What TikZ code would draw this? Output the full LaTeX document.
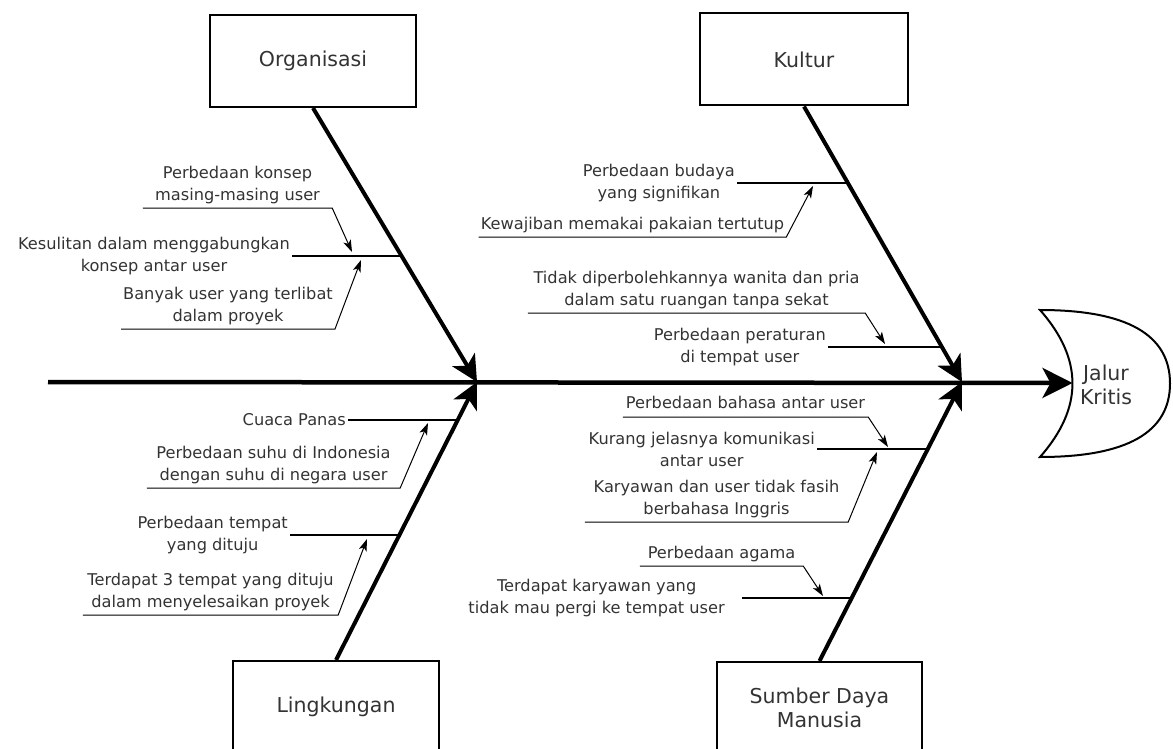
\documentclass[tikz,border=0pt]{standalone}
\usepackage{fontspec}
\setmainfont{DejaVu Sans}
\usetikzlibrary{arrows.meta}
\newcommand{\causefont}{\fontsize{16.2pt}{22pt}\selectfont}
\newcommand{\boxfont}{\fontsize{20.5pt}{24pt}\selectfont}
\tikzset{
  catbox/.style={rectangle, draw, line width=2pt, minimum width=206pt, minimum height=92pt, font=\boxfont, text=black!80, align=center},
  cause/.style={font=\causefont, text=black!80, align=center, inner sep=2pt},
  ul/.style={cause, anchor=south, inner ysep=4pt},
  spine/.style={line width=4.5pt, -{Stealth[length=30pt, width=30pt, inset=8pt]}},
  bone/.style={line width=4pt, -{Stealth[length=26pt, width=26pt, inset=7pt]}},
  sub/.style={line width=2.2pt},
  link/.style={line width=1pt, -{Stealth[length=12pt, width=8pt, inset=3pt]}},
}

\begin{document}
\begin{tikzpicture}[x=1pt, y=-1pt]
\useasboundingbox (0,0) rectangle (1173,749);

%Boxes
\node[catbox] (org) at (313,61) {Organisasi};
\node[catbox, minimum width=208pt] (kul) at (804,59.5) {Kultur};
\node[catbox] (ling) at (336,707) {Lingkungan};
\node[catbox, minimum width=205pt] (sdm) at (819.5,708) {Sumber Daya\\Manusia};

%Head
\draw[line width=2pt] (1040,310) .. controls (1126.7,310) and (1170,334.5) .. (1170,383.5)
  .. controls (1170,432.5) and (1126.7,457) .. (1040,457)
  .. controls (1083.3,408) and (1083.3,359) .. cycle;
\node[font=\boxfont, text=black!80, align=center] (head) at (1106,385) {Jalur\\Kritis};

%Points
\coordinate (tail) at (48,382);
\coordinate (headtip) at (1072.5,383);
\coordinate (jL) at (477,382);
\coordinate (jR) at (962,382);
\coordinate (o2b) at (402,256);
\coordinate (k1b) at (848,183);
\coordinate (k4b) at (942,347);
\coordinate (l1b) at (458,420);
\coordinate (l3b) at (400,535);
\coordinate (s2b) at (928,449);
\coordinate (s5b) at (852,598);
\coordinate (o1t) at (352,252);
\coordinate (o3t) at (361,260);
\coordinate (k2t) at (813,186);
\coordinate (k3t) at (885,344);
\coordinate (l2t) at (428,423);
\coordinate (l4t) at (367,539);
\coordinate (s1t) at (888,447);
\coordinate (s3t) at (877,452);
\coordinate (s4t) at (823,596);

%Causes
\node[ul, minimum width=189pt] (o1) at (237.5,208) {Perbedaan konsep\\masing-masing user};
\node[cause, anchor=east] (o2) at (292,256) {Kesulitan dalam menggabungkan\\konsep antar user};
\node[ul, minimum width=210pt] (o3) at (228,329) {Banyak user yang terlibat\\dalam proyek};
\node[cause, anchor=east] (k1) at (737,183) {Perbedaan budaya\\yang signifikan};
\node[ul, minimum width=305pt] (k2) at (632.5,237) {Kewajiban memakai pakaian tertutup};
\node[ul, minimum width=337pt] (k3) at (696.5,313) {Tidak diperbolehkannya wanita dan pria\\dalam satu ruangan tanpa sekat};
\node[cause, anchor=east] (k4) at (828,347) {Perbedaan peraturan\\di tempat user};
\node[cause, anchor=east] (l1) at (348,420) {Cuaca Panas};
\node[ul, minimum width=253pt] (l2) at (273.5,488) {Perbedaan suhu di Indonesia\\dengan suhu di negara user};
\node[cause, anchor=east] (l3) at (290,535) {Perbedaan tempat\\yang dituju};
\node[ul, minimum width=255pt] (l4) at (210.5,615) {Terdapat 3 tempat yang dituju\\dalam menyelesaikan proyek};
\node[ul, minimum width=245pt, text depth=4pt] (s1) at (745.5,417) {Perbedaan bahasa antar user};
\node[cause, anchor=east] (s2) at (817,449) {Kurang jelasnya komunikasi\\antar user};
\node[ul, minimum width=263pt] (s3) at (716.5,522) {Karyawan dan user tidak fasih\\berbahasa Inggris};
\node[ul, minimum width=163pt] (s4) at (721.5,566) {Perbedaan agama};
\node[cause, anchor=east] (s5) at (727,598) {Terdapat karyawan yang\\tidak mau pergi ke tempat user};

%Spine and bones
\draw[spine] (tail) -- (headtip);
\draw[bone] (org.south) -- (jL);
\draw[bone] (ling.north) -- (jL);
\draw[bone] (kul.south) -- (jR);
\draw[bone] (sdm.north) -- (jR);

%Sub causes
\draw[sub] (o2.east) -- (o2b);
\draw[sub] (k1.east) -- (k1b);
\draw[sub] (k4.east) -- (k4b);
\draw[sub] (l1.east) -- (l1b);
\draw[sub] (l3.east) -- (l3b);
\draw[sub] (s2.east) -- (s2b);
\draw[sub] ([xshift=15pt]s5.east) -- (s5b);

\draw[link] (o1.south west) -- (o1.south east) -- (o1t);
\draw[link] (o3.south west) -- (o3.south east) -- (o3t);
\draw[link] (k2.south west) -- (k2.south east) -- (k2t);
\draw[link] (k3.south west) -- (k3.south east) -- (k3t);
\draw[link] (l2.south west) -- (l2.south east) -- (l2t);
\draw[link] (l4.south west) -- (l4.south east) -- (l4t);
\draw[link] (s1.south west) -- (s1.south east) -- (s1t);
\draw[link] (s3.south west) -- (s3.south east) -- (s3t);
\draw[link] (s4.south west) -- (s4.south east) -- (s4t);
\end{tikzpicture}
\end{document}
